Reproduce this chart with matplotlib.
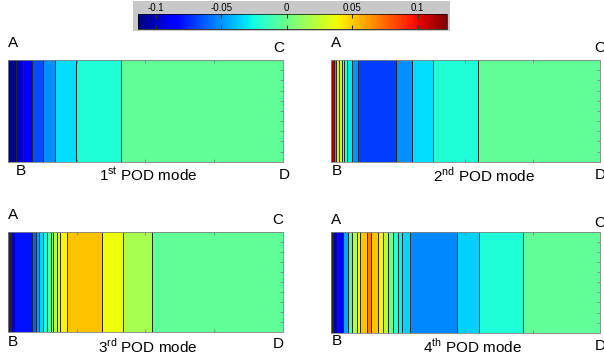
import numpy as np
import matplotlib
matplotlib.use('Agg')
import matplotlib.pyplot as plt
from matplotlib.cm import ScalarMappable
from matplotlib.colors import Normalize

plt.rcParams['font.family'] = ['Liberation Sans', 'DejaVu Sans']
plt.rcParams['mathtext.fontset'] = 'custom'
plt.rcParams['mathtext.rm'] = 'Liberation Sans'
plt.rcParams['axes.unicode_minus'] = False

# band edges along A-C (0..1) and mode value of each band
edges1 = [0, 0.027, 0.055, 0.087, 0.125, 0.171, 0.247, 0.41, 1]
vals1 = [-0.111, -0.099, -0.085, -0.066, -0.05, -0.033, -0.022, -0.003]

edges2 = [0, 0.013, 0.020, 0.030, 0.041, 0.050, 0.062, 0.078, 0.100,
          0.241, 0.301, 0.381, 0.548, 1]
vals2 = [0.115, 0.08, 0.045, 0.02, 0.0, -0.018, -0.03, -0.05, -0.07,
         -0.05, -0.033, -0.022, -0.003]

edges3 = [0, 0.004, 0.008, 0.011, 0.025, 0.086, 0.102, 0.114, 0.126, 0.141,
          0.155, 0.164, 0.178, 0.189, 0.214, 0.343, 0.420, 0.523, 1]
vals3 = [-0.112, -0.112, -0.112, -0.1, -0.08, -0.062, -0.048, -0.035, -0.022,
         -0.005, 0.008, 0.02, 0.03, 0.04, 0.052, 0.037, 0.017, -0.003]

edges4 = [0, 0.004, 0.007, 0.010, 0.022, 0.047, 0.063, 0.078, 0.097, 0.109,
          0.134, 0.150, 0.177, 0.195, 0.214, 0.232, 0.249, 0.264, 0.295,
          0.468, 0.552, 0.713, 1]
vals4 = [-0.112, -0.112, -0.112, -0.105, -0.09, -0.045, -0.01, 0.02, 0.04,
         0.052, 0.07, 0.052, 0.04, 0.02, 0.0, -0.018, -0.028, -0.035,
         -0.052, -0.036, -0.022, -0.003]

titles = ['1$^{\\mathrm{st}}$ POD mode', '2$^{\\mathrm{nd}}$ POD mode',
          '3$^{\\mathrm{rd}}$ POD mode', '4$^{\\mathrm{th}}$ POD mode']
cbar_ticks = [-0.1, -0.05, 0, 0.05, 0.1]
cbar_labels = ['-0.1', '-0.05', '0', '0.05', '0.1']

vmin, vmax = -0.1135, 0.1224
W, H = 604, 360
fig = plt.figure(figsize=(W / 100, H / 100), dpi=100)


def px(x0, y0, x1, y1):
    return [x0 / W, 1 - y1 / H, (x1 - x0) / W, (y1 - y0) / H]


def ftext(x, y, s, **kw):
    fig.text(x / W, 1 - y / H, s, ha='center', va='center', fontsize=11, **kw)


boxes = [px(8.3, 60, 282.7, 161.7), px(330.7, 60, 600, 161.7),
         px(8, 231.7, 282.7, 331.7), px(330.7, 231.7, 600, 332.7)]
data = [(edges1, vals1), (edges2, vals2), (edges3, vals3), (edges4, vals4)]

for box, (e, v) in zip(boxes, data):
    ax = fig.add_axes(box)
    ax.pcolormesh(e, [0, 1], np.array(v)[None, :], cmap='jet',
                  vmin=vmin, vmax=vmax, shading='flat')
    ax.vlines(e[1:-1], 0, 1, colors='#262626', lw=0.7)
    ax.set_xlim(0, 1)
    ax.set_ylim(0, 1)
    ax.set_xticks([0.25, 0.5, 0.75])
    ax.set_yticks(np.arange(0.1, 1.0, 0.1))
    ax.tick_params(direction='in', length=2, width=0.5, color='#707070',
                   top=True, right=True, left=False,
                   labelbottom=False, labelleft=False)
    for s in ax.spines.values():
        s.set_linewidth(0.6)
        s.set_color('#808080')

# corner letters and titles
ftext(13, 43, 'A'); ftext(279, 47.5, 'C'); ftext(20.5, 171, 'B'); ftext(284, 175, 'D')
ftext(148, 175, titles[0])
ftext(336.5, 43, 'A'); ftext(600, 48, 'C'); ftext(336.5, 171, 'B'); ftext(600, 175, 'D')
ftext(484, 175, titles[1])
ftext(13, 215, 'A'); ftext(278, 220, 'C'); ftext(13, 342, 'B'); ftext(278, 344, 'D')
ftext(148, 346, titles[2])
ftext(336.5, 220, 'A'); ftext(600, 223, 'C'); ftext(336.5, 341, 'B'); ftext(600, 346, 'D')
ftext(472, 346, titles[3])

# colorbar on gray background
bg = fig.add_axes(px(133, 1, 450, 31))
bg.set_facecolor('#c8c8c8')
bg.set_xticks([])
bg.set_yticks([])
for s in bg.spines.values():
    s.set_visible(False)
bg.set_zorder(0)

cax = fig.add_axes(px(138, 14, 447, 29))
cax.set_zorder(2)
cb = fig.colorbar(ScalarMappable(Normalize(vmin, vmax), cmap='jet'),
                  cax=cax, orientation='horizontal')
cb.set_ticks(cbar_ticks)
cb.set_ticklabels(cbar_labels)
cax.tick_params(direction='in', length=3, width=0.8, color='#303030',
                top=True, bottom=True, labeltop=True, labelbottom=False,
                labelsize=7, pad=1)
cb.outline.set_linewidth(0.5)

fig.savefig('out.png', dpi=100)
